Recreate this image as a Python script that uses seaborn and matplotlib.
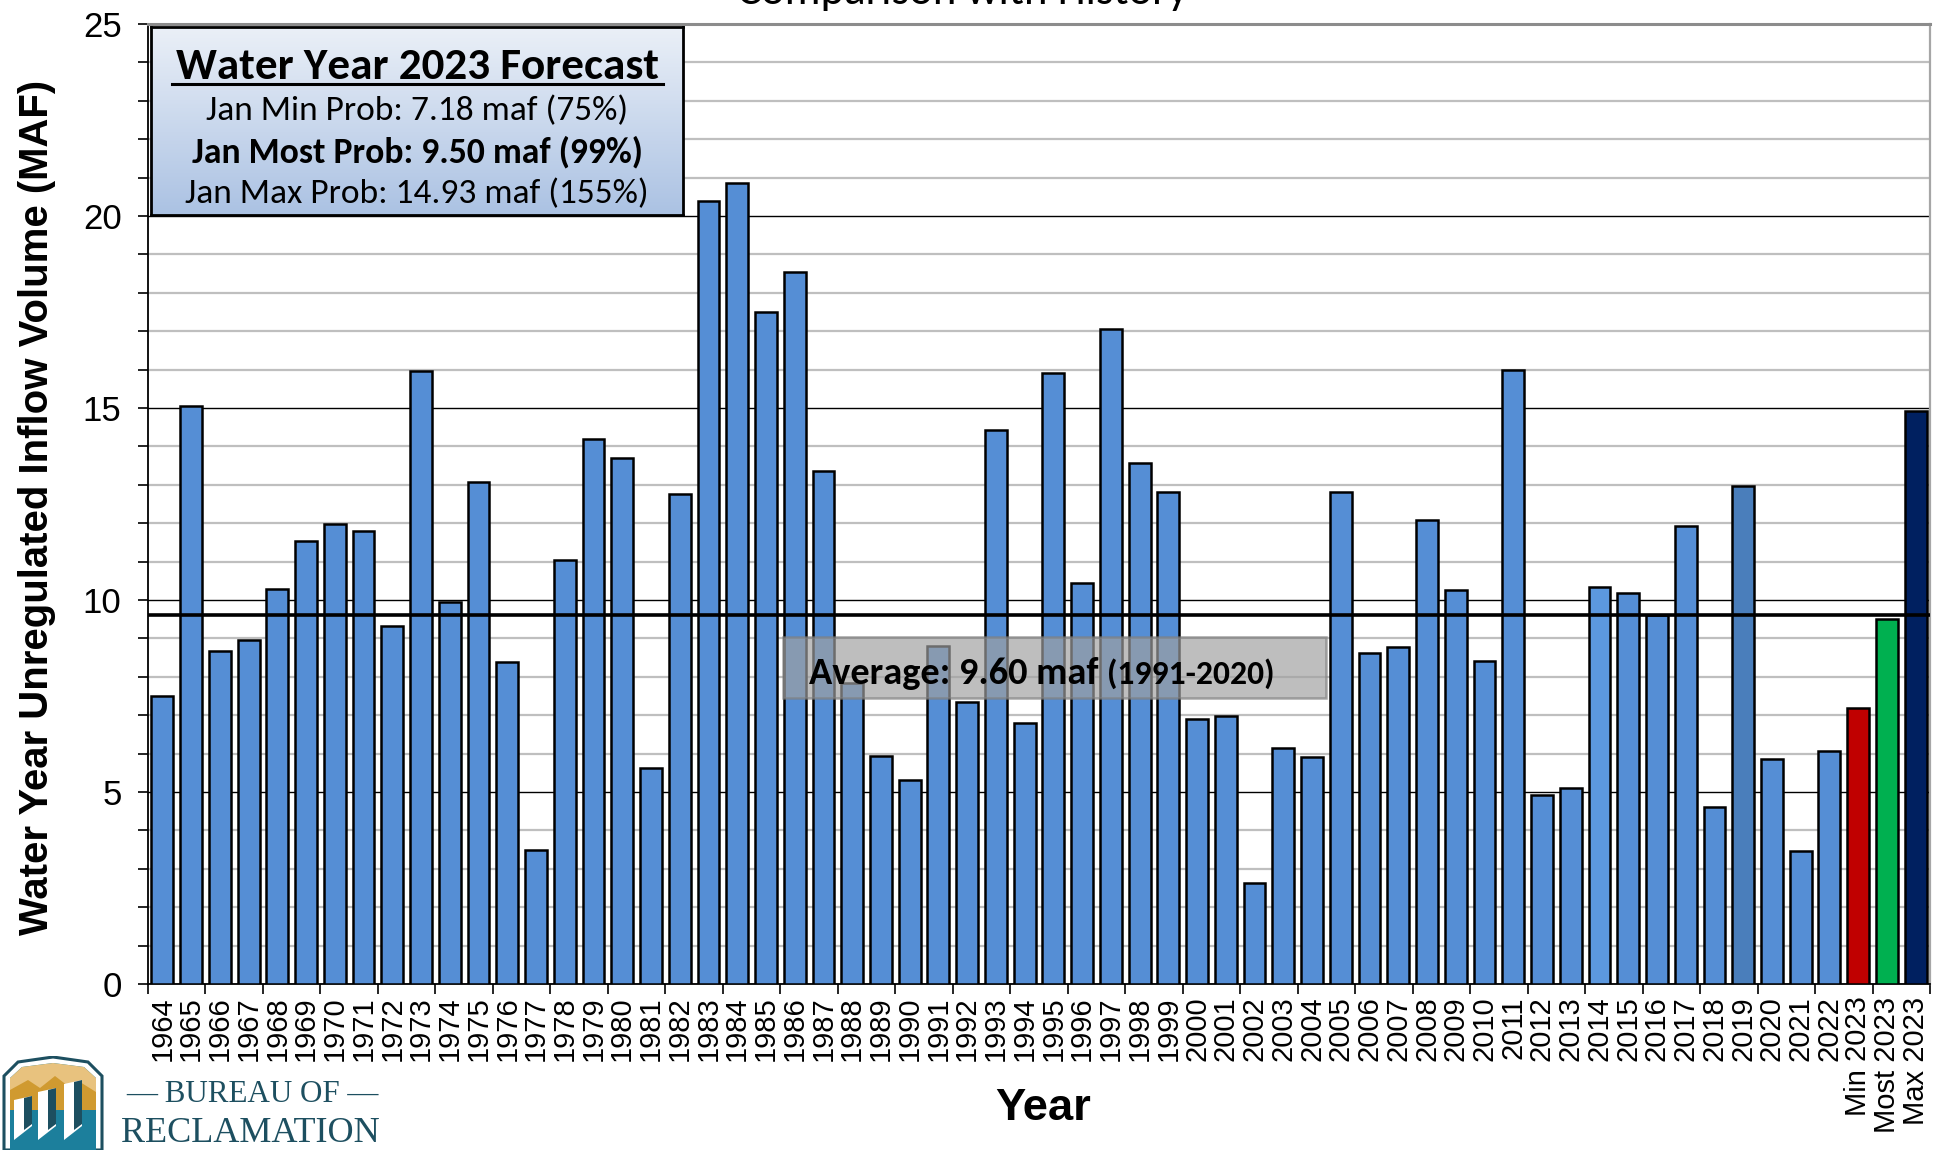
import numpy as np
import pandas as pd
import matplotlib
matplotlib.use("Agg")
import matplotlib.pyplot as plt
import seaborn as sns
from matplotlib import font_manager
from matplotlib.patches import Rectangle, Polygon

# data (million acre-feet)
years = [str(y) for y in range(1964, 2023)]
inflow = [7.50, 15.04, 8.68, 8.97, 10.28, 11.54, 11.99, 11.79, 9.32, 15.97,
          9.96, 13.08, 8.39, 3.50, 11.05, 14.20, 13.69, 5.62, 12.76, 20.40,
          20.85, 17.51, 18.54, 13.37, 7.84, 5.95, 5.30, 8.81, 7.34, 14.43,
          6.79, 15.90, 10.44, 17.06, 13.56, 12.82, 6.91, 6.99, 2.63, 6.15,
          5.91, 12.82, 8.62, 8.77, 12.08, 10.25, 8.42, 16.00, 4.92, 5.11,
          10.35, 10.18, 9.62, 11.92, 4.60, 12.97, 5.85, 3.47, 6.07]
forecast_labels = ["Min 2023", "Most 2023", "Max 2023"]
forecast = [7.18, 9.50, 14.93]
average = 9.60

blue = "#558ED5"
bar_colors = [blue] * len(years)
bar_colors[years.index("2014")] = "#5C98DE"
bar_colors[years.index("2019")] = "#4A7EBB"
bar_colors += ["#C00000", "#00B050", "#002060"]

box_lines = ["Jan Min Prob: 7.18 maf (75%)",
             "Jan Most Prob: 9.50 maf (99%)",
             "Jan Max Prob: 14.93 maf (155%)"]


def has_font(name):
    try:
        font_manager.findfont(name, fallback_to_default=False)
        return True
    except Exception:
        return False


narrow = "Liberation Sans Narrow" if has_font("Liberation Sans Narrow") else "Liberation Sans"
calibri = "Carlito" if has_font("Carlito") else "Lato"

W, H = 1936, 1150
fig = plt.figure(figsize=(W / 100, H / 100), dpi=100)


def fx(px):
    return px / W


def fy(py):
    return 1 - py / H


def fit(txt, length_px):
    r = fig.canvas.get_renderer()
    bb = txt.get_window_extent(r)
    cur = max(bb.width, bb.height)
    txt.set_fontsize(txt.get_fontsize() * length_px / cur)


ax = fig.add_axes([fx(148), fy(984), fx(1930) - fx(148), (984 - 24) / H])

df = pd.DataFrame({"label": years + forecast_labels, "value": inflow + forecast})
sns.barplot(data=df, x="label", y="value", hue="label", palette=bar_colors,
            legend=False, width=0.76, saturation=1, edgecolor="black",
            linewidth=1.8, ax=ax, zorder=3)

ax.set_xlim(-0.49, len(df) - 0.61)
ax.set_ylim(0, 25)
ax.set_yticks(range(0, 26, 5))
ax.set_yticks(range(0, 26), minor=True)
ax.set_axisbelow(True)
ax.grid(which="minor", axis="y", color="#BFBFBF", lw=1.6)
ax.grid(which="major", axis="y", color="black", lw=1.0)
ax.grid(which="both", axis="x", visible=False)
ax.axhline(average, color="black", lw=2.6, zorder=4)

ax.set_xlabel("")
ax.set_ylabel("")
ax.tick_params(axis="y", which="both", direction="out", length=7, width=1.2,
               pad=12, labelsize=25, colors="black")
ax.set_xticks(np.arange(-0.5, len(df), 2), minor=True)
ax.tick_params(axis="x", which="minor", direction="out", length=7, width=1.2)
ax.tick_params(axis="x", which="major", length=0, pad=9, labelsize=21,
               labelrotation=90)
for lab in ax.get_xticklabels() + ax.get_yticklabels():
    lab.set_fontfamily("Liberation Sans")

for side in ["left", "bottom"]:
    ax.spines[side].set_color("black")
    ax.spines[side].set_linewidth(1.3)
ax.spines["top"].set_color("#8C8C8C")
ax.spines["top"].set_linewidth(2.2)
ax.spines["right"].set_color("#A6A6A6")
ax.spines["right"].set_linewidth(1.6)

# axis titles
ylab = fig.text(fx(37), fy(507), "Water Year Unregulated Inflow Volume (MAF)",
                rotation=90, ha="center", va="center", fontsize=30,
                fontweight="bold", family=narrow)
fit(ylab, 855)
xlab = fig.text(fx(1043), fy(1108), "Year", ha="center", va="center",
                fontsize=30, fontweight="bold", family=narrow)
fit(xlab, 96)

# cut-off chart title at the very top
ttl = fig.text(fx(963), fy(4), "Comparison with History", ha="center",
               va="baseline", fontsize=30, family=calibri)
fit(ttl, 450)

# average label box
ax.add_patch(Rectangle((fx(783), fy(698)), fx(1326) - fx(783), (698 - 637) / H,
                       transform=fig.transFigure, facecolor="#A0A0A0",
                       alpha=0.68, edgecolor="#7F7F7F", lw=1.8, zorder=6))
avg1 = fig.text(fx(809), fy(684), "Average: 9.60 maf", ha="left",
                va="baseline", fontsize=24, fontweight="bold", family=calibri,
                zorder=7)
fit(avg1, 290)
avg2 = fig.text(fx(1107), fy(684), "(1991-2020)", ha="left", va="baseline",
                fontsize=20, fontweight="bold", family=calibri, zorder=7)
fit(avg2, 168)

# forecast box with gradient fill
bx = fig.add_axes([fx(151), fy(215), fx(683) - fx(151), (215 - 27) / H],
                  zorder=5)
grad = np.linspace(0, 1, 256)[:, None]
top_c = np.array([0.92, 0.94, 0.97])
bot_c = np.array([0.67, 0.76, 0.89])
img = top_c[None, None, :] * (1 - grad[:, :, None]) + bot_c[None, None, :] * grad[:, :, None]
bx.imshow(img, aspect="auto", extent=[0, 1, 0, 1])
bx.set_xlim(0, 1)
bx.set_ylim(0, 1)
bx.set_xticks([])
bx.set_yticks([])
for s in bx.spines.values():
    s.set_color("black")
    s.set_linewidth(2)
t0 = bx.text(0.5, 0.785, "Water Year 2023 Forecast", ha="center",
             va="center", fontsize=24, fontweight="bold", family=calibri)
fit(t0, 482)
bx.plot([0.04, 0.962], [0.697, 0.697], color="black", lw=2.2)
ys = [0.553, 0.333, 0.112]
widths = [423, 451, 464]
for line, yy, wpx in zip(box_lines, ys, widths):
    t = bx.text(0.5, yy, line, ha="center", va="center", fontsize=20,
                family=calibri,
                fontweight="bold" if "Most" in line else "normal")
    fit(t, wpx)

# agency logo, bottom left
lg = fig.add_axes([0, 0, fx(106), (1150 - 1056) / H])
lg.set_xlim(0, 106)
lg.set_ylim(0, 94)
lg.axis("off")
teal_dark = "#1D4F60"
shield = Polygon([(4, 0), (4, 74), (18, 88), (53, 93), (88, 88), (102, 74),
                  (102, 0)], closed=True, facecolor="white",
                 edgecolor=teal_dark, lw=2.2)
lg.add_patch(shield)
lg.add_patch(Polygon([(10, 0), (10, 72), (22, 83), (53, 87), (84, 83),
                      (96, 72), (96, 0)], closed=True, facecolor="#1C7F9C",
                     edgecolor="none"))
lg.add_patch(Polygon([(10, 40), (10, 72), (22, 83), (53, 87), (84, 83),
                      (96, 72), (96, 40)], closed=True, facecolor="#E8C27E",
                     edgecolor="none"))
lg.add_patch(Polygon([(10, 40), (10, 60), (28, 70), (40, 62), (55, 74),
                      (68, 64), (80, 68), (96, 58), (96, 40)], closed=True,
                     facecolor="#D09A30", edgecolor="none"))
for x0, top in [(14, 50), (38, 58), (64, 66)]:
    lg.add_patch(Polygon([(x0, 10), (x0, top), (x0 + 18, top + 4),
                          (x0 + 18, 24)], closed=True, facecolor="white",
                         edgecolor="none"))
    lg.add_patch(Polygon([(x0 + 10, 20), (x0 + 10, top + 2), (x0 + 18, top + 4),
                          (x0 + 18, 26)], closed=True, facecolor=teal_dark,
                         edgecolor="none"))
b1 = fig.text(fx(252), fy(1095), "\u2014 BUREAU OF \u2014", ha="center",
              va="center", fontsize=18, family="Liberation Serif",
              color=teal_dark)
fit(b1, 253)
b2 = fig.text(fx(250), fy(1133), "RECLAMATION", ha="center", va="center",
              fontsize=26, family="Liberation Serif", color=teal_dark)
fit(b2, 259)

fig.savefig("out.png", dpi=100)
